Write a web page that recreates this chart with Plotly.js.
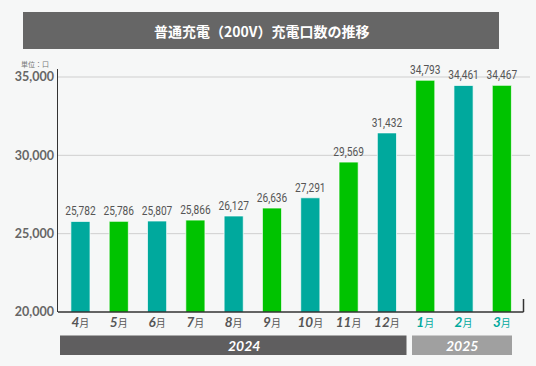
<!DOCTYPE html>
<html><head><meta charset="utf-8">
<script src="https://cdn.plot.ly/plotly-3.0.1.min.js"></script>
<style>html,body{margin:0;padding:0;background:#f6f7f7;}#chart{width:536px;height:366px;}</style>
</head><body><div id="chart"></div>
<script>
var months = ["4","5","6","7","8","9","10","11","12","1","2","3"];
var years = ["2024","2024","2024","2024","2024","2024","2024","2024","2024","2025","2025","2025"];
var values = [25782, 25786, 25807, 25866, 26127, 26636, 27291, 29569, 31432, 34793, 34461, 34467];
var yTicks = [20000, 25000, 30000, 35000];
var yTickText = ["20,000", "25,000", "30,000", "35,000"];
var title = "普通充電（200V）充電口数の推移";
var unitLabel = "単位：口";
var yearLabels = ["2024", "2025"];

var W = 536, H = 366, L = 58, R = 15, T = 69, B = 54;
var pw = W - L - R, ph = H - T - B;
function px(x){ return (x - L) / pw; }
function py(y){ return (H - B - y) / ph; }

var teal = "#00a99d", green = "#00c300";
var cats = months.map(function(m, i){ return years[i] + "-" + m; });
var colors = values.map(function(v, i){ return i % 2 === 0 ? teal : green; });
var tickText = months.map(function(m, i){
  var c = years[i] === "2025" ? teal : "#555555";
  return "<span style='color:" + c + "'><b><i>" + m + "</i></b><span style='font-size:10px'>月</span></span>";
});

var trace = {
  type: "bar", x: cats, y: values, width: 0.5,
  marker: {color: colors, line: {color: "rgba(255,255,255,0.7)", width: 1}},
  text: values.map(function(v){ return v.toLocaleString("en-US"); }),
  textposition: "outside", cliponaxis: false, constraintext: "none",
  textfont: {family: "Roboto, sans-serif", size: 13, color: "#555555"},
  hoverinfo: "none"
};

var shapes = [];
shapes.push({type:"rect", xref:"paper", yref:"paper", x0:px(23), x1:px(499), y0:py(49), y1:py(12), fillcolor:"#666666", line:{width:0}, layer:"below"});
shapes.push({type:"rect", xref:"paper", yref:"paper", x0:px(60), x1:px(406.5), y0:py(355), y1:py(335.5), fillcolor:"#5f5e5f", line:{width:0}});
shapes.push({type:"rect", xref:"paper", yref:"paper", x0:px(412), x1:px(512), y0:py(355), y1:py(335.5), fillcolor:"#a0a0a0", line:{width:0}});
[25000, 30000, 35000].forEach(function(v){
  shapes.push({type:"line", xref:"paper", yref:"y", x0:0, x1:px(530), y0:v, y1:v, line:{color:"#cfcfcf", width:1}, layer:"below"});
});
shapes.push({type:"line", xref:"paper", yref:"paper", x0:0, x1:px(523.5), y0:0, y1:0, line:{color:"#333333", width:1.5}});
shapes.push({type:"line", xref:"paper", yref:"paper", x0:px(523.5), x1:px(523.5), y0:0, y1:py(299), line:{color:"#333333", width:1.5}});

var annotations = [
  {xref:"paper", yref:"paper", x:px(261), y:py(31), text:"<b>" + title + "</b>", showarrow:false,
   font:{family:"Noto Sans CJK JP", size:14, color:"#ffffff"}, xanchor:"center", yanchor:"middle"},
  {xref:"paper", yref:"paper", x:px(35), y:py(64), text:unitLabel, showarrow:false,
   font:{family:"Noto Sans CJK JP", size:7, color:"#777777"}, xanchor:"center", yanchor:"middle"},
  {xref:"paper", yref:"paper", x:px(244), y:py(345.5), text:"<b><i>" + yearLabels[0] + "</i></b>", showarrow:false,
   font:{family:"Lato, Noto Sans, sans-serif", size:14, color:"#ffffff"}, xanchor:"center", yanchor:"middle"},
  {xref:"paper", yref:"paper", x:px(462), y:py(345.5), text:"<b><i>" + yearLabels[1] + "</i></b>", showarrow:false,
   font:{family:"Lato, Noto Sans, sans-serif", size:14, color:"#ffffff"}, xanchor:"center", yanchor:"middle"}
];

var layout = {
  width: W, height: H,
  margin: {l: L, r: R, t: T, b: B, pad: 0},
  paper_bgcolor: "#f6f7f7", plot_bgcolor: "#f6f7f7",
  showlegend: false,
  xaxis: {type: "category", range: [-0.586, 11.5], tickvals: cats, ticktext: tickText,
    showgrid: false, zeroline: false, showline: false, ticks: "", fixedrange: true,
    tickfont: {family: "Lato, Noto Sans CJK JP, sans-serif", size: 13.5, color: "#555555"}},
  yaxis: {range: [20000, 35511], tickvals: yTicks, ticktext: yTickText.map(function(t){ return "<b>" + t + "</b>"; }),
    showgrid: false, zeroline: false, showline: true, linecolor: "#333333", linewidth: 1.5,
    ticks: "", ticklen: 0, fixedrange: true,
    tickfont: {family: "Lato, Noto Sans, sans-serif", size: 12.5, color: "#666666"}},
  shapes: shapes, annotations: annotations,
  bargap: 0.5
};

Plotly.newPlot("chart", [trace], layout, {staticPlot: true, displayModeBar: false}).then(function(gd){
  // condense the value labels (the reference uses a narrow face)
  gd.querySelectorAll("text.bartext").forEach(function(t){
    var len = t.getComputedTextLength();
    t.setAttribute("textLength", (len * 0.78).toFixed(1));
    t.setAttribute("lengthAdjust", "spacingAndGlyphs");
  });
});
</script></body></html>
